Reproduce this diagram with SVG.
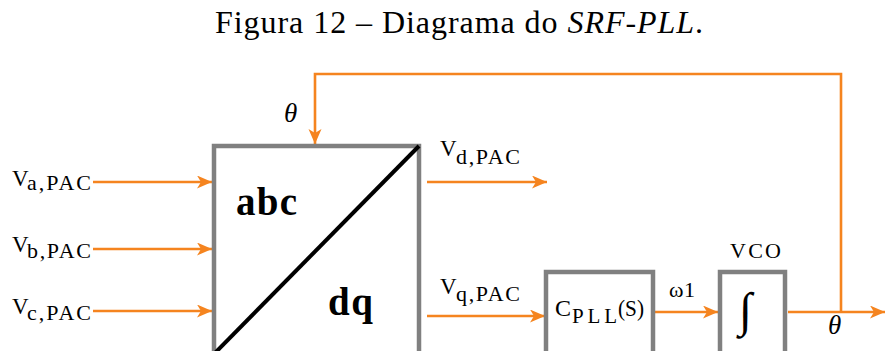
<svg xmlns="http://www.w3.org/2000/svg" width="885" height="351" viewBox="0 0 885 351">
<defs>
<style>
.t{font-family:"Liberation Serif","Times New Roman",serif;fill:#000}
.w{stroke:#F5841F;stroke-width:2.6;fill:none}
.box{fill:#fff;stroke:#808080;stroke-width:4.5}
.th{font-family:"Liberation Serif",serif;font-style:italic;font-size:27px}
</style>
<marker id="ah" markerUnits="userSpaceOnUse" markerWidth="16" markerHeight="14" refX="15" refY="6.5" orient="auto" viewBox="0 0 16 14">
<path d="M0,0 L15,6.5 L0,13 L4,6.5 Z" fill="#F5841F"/>
</marker>
</defs>
<rect width="885" height="351" fill="#fff"/>
<text id="title" class="t" x="215" y="33" font-size="32" textLength="488" lengthAdjust="spacing">Figura 12 – Diagrama do <tspan font-style="italic">SRF-PLL</tspan>.</text>

<g id="connectors">
<line class="w" x1="93" y1="182" x2="212" y2="182" marker-end="url(#ah)"/>
<line class="w" x1="93" y1="249" x2="212" y2="249" marker-end="url(#ah)"/>
<line class="w" x1="93" y1="311" x2="212" y2="311" marker-end="url(#ah)"/>
<line class="w" x1="427" y1="182" x2="547" y2="182" marker-end="url(#ah)"/>
<line class="w" x1="427" y1="316" x2="545" y2="316" marker-end="url(#ah)"/>
<line class="w" x1="655" y1="312" x2="718" y2="312" marker-end="url(#ah)"/>
<line class="w" x1="788" y1="312" x2="885" y2="312" marker-end="url(#ah)"/>
<polyline class="w" points="841,312 841,74 315,74 315,144" marker-end="url(#ah)"/>
</g>

<g id="inputs">
<text class="t" x="12" y="186" font-size="23">V</text>
<text class="t" x="27" y="190" font-size="22" textLength="64" lengthAdjust="spacing">a,PAC</text>
<text class="t" x="12" y="252" font-size="23">V</text>
<text class="t" x="27" y="258" font-size="22" textLength="64" lengthAdjust="spacing">b,PAC</text>
<text class="t" x="12" y="314" font-size="23">V</text>
<text class="t" x="27" y="320" font-size="22" textLength="64" lengthAdjust="spacing">c,PAC</text>
</g>

<g id="abc-dq">
<rect class="box" x="214" y="146" width="205" height="220"/>
<line x1="419" y1="146" x2="212" y2="356" stroke="#000" stroke-width="4"/>
<text class="t" x="236" y="215" font-size="39" font-weight="bold" textLength="61" lengthAdjust="spacing">abc</text>
<text class="t" x="328" y="315" font-size="39" font-weight="bold" textLength="45" lengthAdjust="spacing">dq</text>
</g>

<g id="theta-top"><text class="t th" x="284" y="122">θ</text></g>

<g id="vd-label">
<text class="t" x="440" y="156" font-size="23">V</text>
<text class="t" x="456" y="164" font-size="22" textLength="64" lengthAdjust="spacing">d,PAC</text>
</g>
<g id="vq-label">
<text class="t" x="440" y="294" font-size="23">V</text>
<text class="t" x="456" y="301" font-size="22" textLength="64" lengthAdjust="spacing">q,PAC</text>
</g>

<g id="cpll">
<rect class="box" x="546" y="272" width="107" height="90"/>
<text class="t" x="555" y="316" font-size="24">C</text>
<text class="t" x="572" y="323" font-size="21" textLength="45" lengthAdjust="spacing">PLL</text>
<text class="t" x="618" y="316" font-size="24" textLength="26" lengthAdjust="spacingAndGlyphs">(S)</text>
</g>

<g id="omega"><text class="t" x="669" y="297" font-size="22" textLength="26" lengthAdjust="spacing">ω1</text></g>

<g id="vco">
<text class="t" x="730" y="258" font-size="22" textLength="51" lengthAdjust="spacing">VCO</text>
<rect class="box" x="720" y="272" width="65" height="90"/>
<text class="t" x="739" y="326" font-size="48" font-style="italic">∫</text>
</g>

<g id="theta-out"><text class="t th" x="828" y="334">θ</text></g>
</svg>
